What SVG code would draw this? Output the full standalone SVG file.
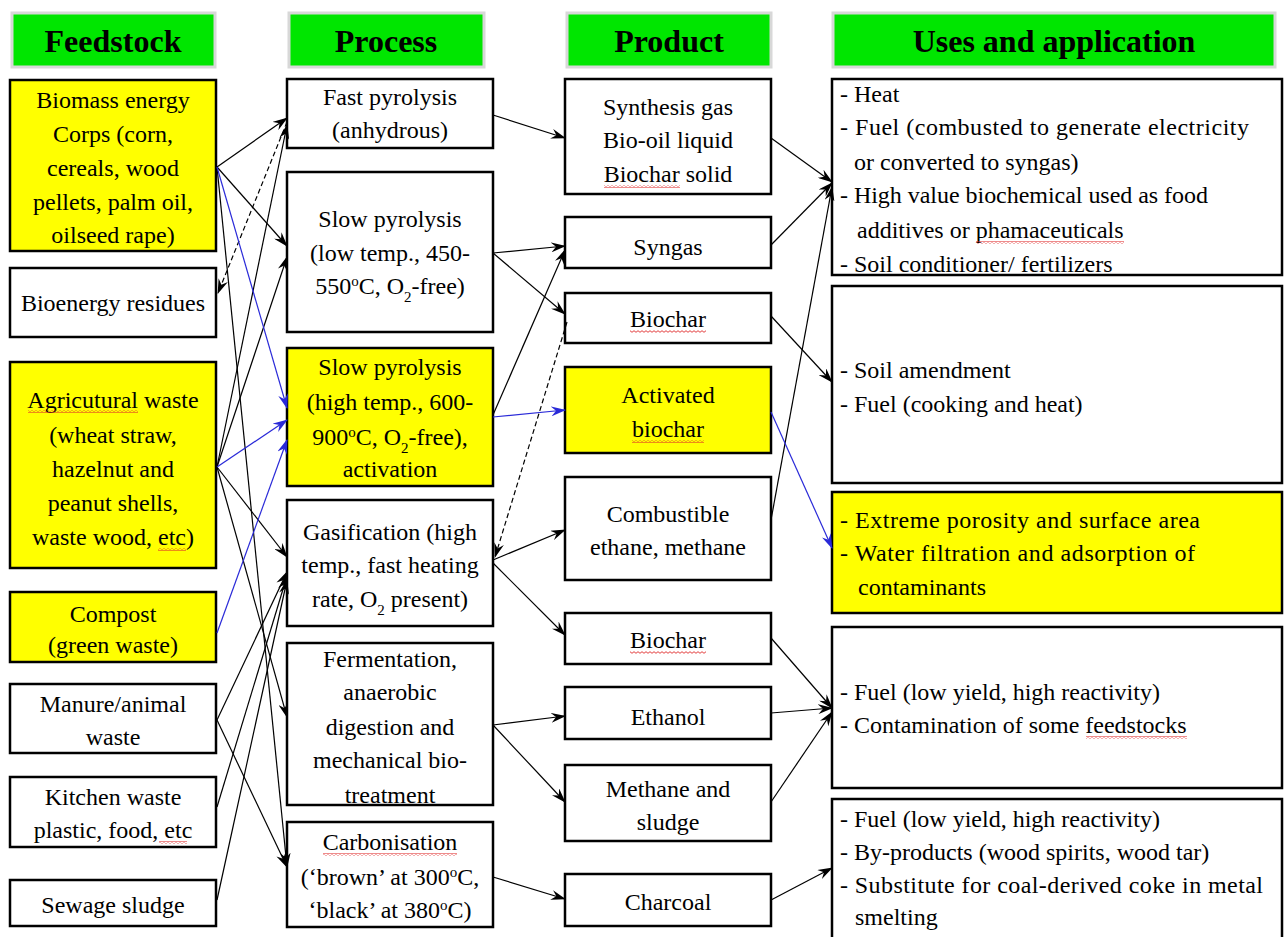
<svg xmlns="http://www.w3.org/2000/svg" width="1284" height="937" viewBox="0 0 1284 937">
<defs>
<style>
.hdr{fill:#00e600;stroke:#d8d8d8;stroke-width:3}
.ht{font-family:'Liberation Serif',serif;font-weight:bold;font-size:32px;fill:#000;text-anchor:middle}
.box{fill:#fff;stroke:#000;stroke-width:2.5}
.ybox{fill:#ffff00;stroke:#000;stroke-width:2.5}
.t{font-family:'Liberation Serif',serif;font-size:24px;fill:#000;text-anchor:middle}
.u{font-family:'Liberation Serif',serif;font-size:24px;fill:#000}
.c{fill:none;stroke:#000;stroke-width:1.2;marker-end:url(#ak)}
.cb{fill:none;stroke:#2a2ad8;stroke-width:1.2;marker-end:url(#ab)}
.cd{fill:none;stroke:#000;stroke-width:1.2;stroke-dasharray:5,3;marker-end:url(#ak)}
.sp{fill:url(#wave)}
</style>
<marker id="ak" viewBox="0 0 15 10" refX="14" refY="5" markerWidth="15" markerHeight="10" markerUnits="userSpaceOnUse" orient="auto"><path d="M0,0 L15,5 L0,10 L5,5 Z" fill="#000"/></marker>
<marker id="ab" viewBox="0 0 15 10" refX="14" refY="5" markerWidth="15" markerHeight="10" markerUnits="userSpaceOnUse" orient="auto"><path d="M0,0 L15,5 L0,10 L5,5 Z" fill="#2a2ad8"/></marker>
<pattern id="wave" width="4" height="3" patternUnits="userSpaceOnUse"><path d="M0,2.3 L2,0.7 L4,2.3" fill="none" stroke="#e02828" stroke-width="0.9"/></pattern>
</defs>
<rect width="1284" height="937" fill="#fff"/>

<g id="headers">
<rect class="hdr" x="12" y="13" width="203" height="54"/>
<text class="ht" x="113" y="52">Feedstock</text>
<rect class="hdr" x="289" y="13" width="195" height="54"/>
<text class="ht" x="386" y="52">Process</text>
<rect class="hdr" x="567" y="13" width="204" height="54"/>
<text class="ht" x="669" y="52">Product</text>
<rect class="hdr" x="833" y="13" width="442" height="54"/>
<text class="ht" x="1054" y="52">Uses and application</text>
</g>

<g id="feed-biomass">
<rect class="ybox" x="10" y="80" width="206" height="171"/>
<text class="t" x="113" y="108">Biomass  energy</text>
<text class="t" x="113" y="142">Corps (corn,</text>
<text class="t" x="113" y="176">cereals, wood</text>
<text class="t" x="113" y="210">pellets, palm oil,</text>
<text class="t" x="113" y="243">oilseed rape)</text>
</g>
<g id="feed-residues">
<rect class="box" x="10" y="268" width="206" height="69"/>
<text class="t" x="113" y="311">Bioenergy  residues</text>
</g>
<g id="feed-agri">
<rect class="ybox" x="10" y="362" width="206" height="206"/>
<text class="t" x="113" y="408">Agricutural  waste</text>
<text class="t" x="113" y="443">(wheat straw,</text>
<text class="t" x="113" y="477">hazelnut  and</text>
<text class="t" x="113" y="511">peanut  shells,</text>
<text class="t" x="113" y="545">waste wood, etc)</text>
<rect class="sp" x="28" y="410" width="110" height="3"/>
<rect class="sp" x="158" y="548" width="28" height="3"/>
</g>
<g id="feed-compost">
<rect class="ybox" x="10" y="592" width="206" height="70"/>
<text class="t" x="113" y="622">Compost</text>
<text class="t" x="113" y="653">(green waste)</text>
</g>
<g id="feed-manure">
<rect class="box" x="10" y="684" width="206" height="69"/>
<text class="t" x="113" y="712">Manure/animal</text>
<text class="t" x="113" y="745">waste</text>
</g>
<g id="feed-kitchen">
<rect class="box" x="10" y="777" width="206" height="70"/>
<text class="t" x="113" y="805">Kitchen  waste</text>
<text class="t" x="113" y="838">plastic, food, etc</text>
<rect class="sp" x="159" y="841" width="28" height="3"/>
</g>
<g id="feed-sewage">
<rect class="box" x="10" y="880" width="206" height="46"/>
<text class="t" x="113" y="913">Sewage sludge</text>
</g>

<g id="proc-fast">
<rect class="box" x="287" y="79" width="206" height="69"/>
<text class="t" x="390" y="105">Fast pyrolysis</text>
<text class="t" x="390" y="138">(anhydrous)</text>
</g>
<g id="proc-slowlow">
<rect class="box" x="287" y="172" width="206" height="160"/>
<text class="t" x="390" y="227">Slow pyrolysis</text>
<text class="t" x="390" y="261">(low temp.,  450-</text>
<text class="t" x="390" y="294">550<tspan font-size="15" baseline-shift="super">o</tspan>C, O<tspan font-size="15" baseline-shift="sub">2</tspan>-free)</text>
</g>
<g id="proc-slowhigh">
<rect class="ybox" x="287" y="348" width="206" height="138"/>
<text class="t" x="390" y="375">Slow pyrolysis</text>
<text class="t" x="390" y="410">(high  temp.,  600-</text>
<text class="t" x="390" y="445">900<tspan font-size="15" baseline-shift="super">o</tspan>C, O<tspan font-size="15" baseline-shift="sub">2</tspan>-free),</text>
<text class="t" x="390" y="477">activation</text>
</g>
<g id="proc-gasif">
<rect class="box" x="287" y="500" width="206" height="126"/>
<text class="t" x="390" y="540">Gasification (high</text>
<text class="t" x="390" y="573">temp.,  fast heating</text>
<text class="t" x="390" y="607">rate, O<tspan font-size="15" baseline-shift="sub">2</tspan> present)</text>
</g>
<g id="proc-ferm">
<rect class="box" x="287" y="643" width="206" height="162"/>
<text class="t" x="390" y="667">Fermentation,</text>
<text class="t" x="390" y="700">anaerobic</text>
<text class="t" x="390" y="735">digestion and</text>
<text class="t" x="390" y="768">mechanical  bio-</text>
<text class="t" x="390" y="803">treatment</text>
</g>
<g id="proc-carb">
<rect class="box" x="287" y="822" width="206" height="105"/>
<text class="t" x="390" y="850">Carbonisation</text>
<text class="t" x="390" y="885">(‘brown’ at 300<tspan font-size="15" baseline-shift="super">o</tspan>C,</text>
<text class="t" x="390" y="918">‘black’ at 380<tspan font-size="15" baseline-shift="super">o</tspan>C)</text>
<rect class="sp" x="323" y="853" width="134" height="3"/>
</g>

<g id="prod-synth">
<rect class="box" x="565" y="79" width="206" height="115"/>
<text class="t" x="668" y="115">Synthesis  gas</text>
<text class="t" x="668" y="148">Bio-oil liquid</text>
<text class="t" x="668" y="182">Biochar solid</text>
<rect class="sp" x="604" y="185" width="76" height="3"/>
</g>
<g id="prod-syngas">
<rect class="box" x="565" y="217" width="206" height="51"/>
<text class="t" x="668" y="255">Syngas</text>
</g>
<g id="prod-biochar1">
<rect class="box" x="565" y="293" width="206" height="50"/>
<text class="t" x="668" y="327">Biochar</text>
<rect class="sp" x="630" y="330" width="76" height="3"/>
</g>
<g id="prod-activated">
<rect class="ybox" x="565" y="367" width="206" height="86"/>
<text class="t" x="668" y="403">Activated</text>
<text class="t" x="668" y="437">biochar</text>
<rect class="sp" x="632" y="440" width="72" height="3"/>
</g>
<g id="prod-combust">
<rect class="box" x="565" y="477" width="206" height="103"/>
<text class="t" x="668" y="522">Combustible</text>
<text class="t" x="668" y="555">ethane,  methane</text>
</g>
<g id="prod-biochar2">
<rect class="box" x="565" y="613" width="206" height="51"/>
<text class="t" x="668" y="648">Biochar</text>
<rect class="sp" x="630" y="651" width="76" height="3"/>
</g>
<g id="prod-ethanol">
<rect class="box" x="565" y="687" width="206" height="52"/>
<text class="t" x="668" y="725">Ethanol</text>
</g>
<g id="prod-methane">
<rect class="box" x="565" y="765" width="206" height="76"/>
<text class="t" x="668" y="797">Methane  and</text>
<text class="t" x="668" y="830">sludge</text>
</g>
<g id="prod-charcoal">
<rect class="box" x="565" y="874" width="206" height="52"/>
<text class="t" x="668" y="910">Charcoal</text>
</g>

<g id="use-1">
<rect class="box" x="832" y="79" width="450" height="196"/>
<text class="u" x="840" y="102">- Heat</text>
<text class="u" x="840" y="135" textLength="409">- Fuel (combusted to generate electricity</text>
<text class="u" x="854" y="170">or converted to syngas)</text>
<text class="u" x="840" y="203" textLength="368">- High value biochemical used as food</text>
<text class="u" x="857" y="238">additives or phamaceuticals</text>
<rect class="sp" x="976" y="241" width="148" height="3"/>
<text class="u" x="840" y="272">- Soil conditioner/  fertilizers</text>
</g>
<g id="use-2">
<rect class="box" x="832" y="286" width="450" height="197"/>
<text class="u" x="840" y="378">- Soil amendment</text>
<text class="u" x="840" y="412">- Fuel (cooking  and heat)</text>
</g>
<g id="use-3">
<rect class="ybox" x="832" y="492" width="450" height="121"/>
<text class="u" x="840" y="528" textLength="360">- Extreme  porosity and surface area</text>
<text class="u" x="840" y="561" textLength="355">- Water  filtration and adsorption of</text>
<text class="u" x="858" y="595">contaminants</text>
</g>
<g id="use-4">
<rect class="box" x="832" y="627" width="450" height="161"/>
<text class="u" x="840" y="700">- Fuel (low yield, high  reactivity)</text>
<text class="u" x="840" y="733">- Contamination  of some  feedstocks</text>
<rect class="sp" x="1086" y="736" width="101" height="3"/>
</g>
<g id="use-5">
<rect class="box" x="832" y="799" width="450" height="140"/>
<text class="u" x="840" y="827">- Fuel (low yield, high  reactivity)</text>
<text class="u" x="840" y="860">- By-products  (wood spirits, wood tar)</text>
<text class="u" x="840" y="893" textLength="423">- Substitute  for coal-derived coke  in metal</text>
<text class="u" x="855" y="925">smelting</text>
</g>

<g id="connectors">
<path class="c" d="M217,167 L287,118"/>
<path class="c" d="M217,167 L287,246"/>
<path class="c" d="M217,167 L287,867"/>
<path class="c" d="M217,467 L287,125"/>
<path class="c" d="M217,467 L287,257"/>
<path class="c" d="M217,467 L287,557"/>
<path class="c" d="M217,467 L287,717"/>
<path class="c" d="M217,720 L287,572"/>
<path class="c" d="M217,720 L287,867"/>
<path class="c" d="M217,807 L287,576"/>
<path class="c" d="M217,900 L287,580"/>
<path class="cd" d="M287,122 L218,293"/>
<path class="cb" d="M217,167 L287,408"/>
<path class="cb" d="M217,467 L287,420"/>
<path class="cb" d="M217,633 L287,440"/>

<path class="c" d="M493,115 L565,138"/>
<path class="c" d="M493,253 L565,246"/>
<path class="c" d="M493,253 L565,314"/>
<path class="c" d="M493,415 L565,250"/>
<path class="cb" d="M493,417 L565,410"/>
<path class="c" d="M493,560 L565,530"/>
<path class="c" d="M493,563 L565,635"/>
<path class="cd" d="M567,322 L495,557"/>
<path class="c" d="M493,725 L565,716"/>
<path class="c" d="M493,725 L565,802"/>
<path class="c" d="M493,877 L565,899"/>

<path class="c" d="M771,138 L832,182"/>
<path class="c" d="M771,245 L832,183"/>
<path class="c" d="M771,520 L832,187"/>
<path class="c" d="M771,316 L832,382"/>
<path class="cb" d="M771,412 L832,548"/>
<path class="c" d="M771,638 L832,708"/>
<path class="c" d="M771,713 L832,708"/>
<path class="c" d="M771,802 L832,712"/>
<path class="c" d="M771,900 L832,868"/>
</g>
</svg>
